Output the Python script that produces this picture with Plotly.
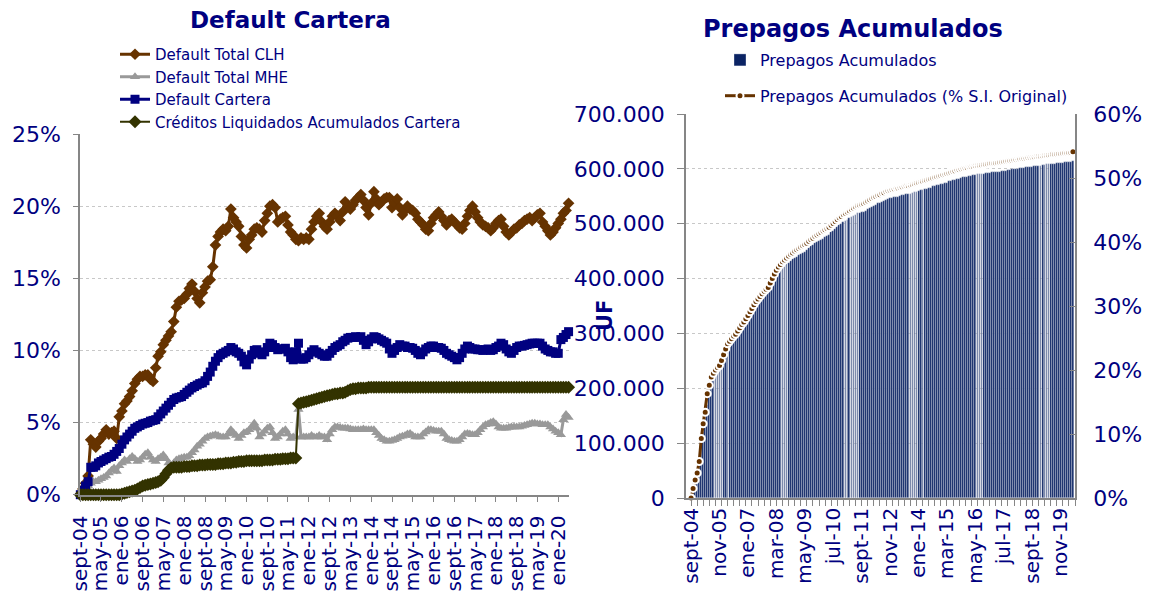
import pandas as pd
import plotly.graph_objects as go

# ---------------- data (monthly, sept-2004 .. may-2020) ----------------
START = "2004-09-01"

default_total_clh = [
    0.0, 0.4, 0.8, 1.3,
    3.8, 3.5, 3.3, 3.7, 3.9, 4.2, 4.5, 4.2, 4.3, 4.4, 3.9, 5.4,
    5.8, 6.3, 6.5, 6.8, 7.2, 7.7, 8.0, 8.2, 8.2, 8.3, 8.3, 8.0,
    7.85, 8.8, 9.6, 9.9, 10.4, 10.7, 11.0, 11.3, 12.0, 13.0, 13.4, 13.5,
    13.6, 13.9, 14.3, 14.6, 14.1, 13.6, 13.3, 14.0, 14.4, 14.8, 14.9, 15.8,
    17.3, 17.9, 18.2, 18.4, 18.3, 18.6, 19.8, 19.2, 18.9, 18.6, 17.9, 17.3,
    17.1, 17.7, 18.0, 18.4, 18.5, 18.4, 18.2, 19.0, 19.5, 20.0, 20.1, 19.9,
    18.9, 19.1, 19.2, 19.3, 18.7, 18.2, 18.0, 17.7, 17.6, 17.8, 17.7, 17.8,
    17.7, 18.4, 18.9, 19.3, 19.5, 18.9, 18.6, 18.4, 18.9, 19.3, 19.5, 19.3,
    19.0, 19.6, 20.3, 20.0, 19.8, 20.1, 20.4, 20.6, 20.8, 20.4, 19.9, 19.4,
    20.2, 21.0, 20.5, 20.1, 20.3, 20.5, 20.6, 20.6, 19.9, 20.2, 20.5, 19.9,
    19.4, 19.7, 20.0, 19.8, 19.7, 19.5, 19.1, 18.9, 18.7, 18.4, 18.3, 18.8,
    19.2, 19.4, 19.6, 19.3, 19.0, 18.7, 19.0, 19.1, 18.9, 18.7, 18.5, 18.4,
    18.8, 19.3, 19.7, 20.0, 19.6, 19.2, 18.9, 18.7, 18.6, 18.5, 18.3, 18.5,
    18.8, 19.0, 19.1, 18.6, 18.2, 18.0, 18.2, 18.4, 18.5, 18.7, 18.8, 19.0,
    19.1, 19.2, 19.0, 19.2, 19.4, 19.5, 18.9, 18.6, 18.3, 18.0, 18.2, 18.5,
    18.8, 19.1, 19.5, 19.7, 20.2,
]

default_total_mhe = [
    0.0, 0.2, 0.4, 0.6,
    0.8, 0.9, 0.9, 1.0, 1.1, 1.2, 1.3, 1.5, 1.7, 1.85, 1.6, 2.0,
    2.2, 2.4, 2.3, 2.5, 2.65, 2.5, 2.3, 2.4, 2.6, 2.8, 2.9, 2.6,
    2.4, 2.3, 2.5, 2.6, 2.75, 2.5, 2.2, 1.95, 2.2, 2.4, 2.5, 2.55,
    2.6, 2.6, 2.7, 2.9, 3.1, 3.35, 3.5, 3.7, 3.9, 4.0, 4.05, 4.1,
    4.15, 4.1, 4.0, 4.0, 4.0, 4.2, 4.5, 4.3, 4.1, 3.9, 4.1, 4.3,
    4.35, 4.5, 4.7, 4.95, 4.6, 4.0, 4.2, 4.4, 4.6, 4.7, 4.3, 3.9,
    4.0, 4.2, 4.4, 4.5, 4.2, 3.9, 4.0, 4.0, 5.9, 4.0, 4.0, 4.0,
    4.0, 4.1, 4.0, 4.0, 4.1, 4.0, 4.0, 3.8, 4.2, 4.5, 4.7, 4.7,
    4.65, 4.6, 4.6, 4.6, 4.55, 4.5, 4.5, 4.5, 4.5, 4.55, 4.5, 4.5,
    4.5, 4.5, 4.3, 4.1, 3.9, 3.8, 3.7, 3.7, 3.75, 3.8, 3.9, 4.0,
    4.05, 4.1, 4.2, 4.25, 4.1, 4.0, 4.0, 4.0, 4.2, 4.35, 4.5, 4.5,
    4.45, 4.4, 4.4, 4.4, 4.2, 3.9, 3.8, 3.75, 3.7, 3.7, 3.8, 4.0,
    4.2, 4.25, 4.2, 4.15, 4.15, 4.3, 4.5, 4.7, 4.85, 4.9, 5.0, 5.05,
    4.9, 4.7, 4.6, 4.6, 4.6, 4.65, 4.7, 4.7, 4.7, 4.7, 4.75, 4.8,
    4.85, 4.9, 4.95, 4.95, 4.9, 4.9, 4.85, 4.85, 4.85, 4.7, 4.55, 4.4,
    4.3, 4.15, 5.2, 5.55, 5.35,
]

default_cartera = [
    0.0, 0.3, 0.6, 0.9,
    1.9, 1.9, 2.0, 2.2, 2.3, 2.4, 2.5, 2.6, 2.65, 2.8, 3.0, 3.2,
    3.5, 3.8, 4.0, 4.2, 4.4, 4.6, 4.7, 4.8, 4.9, 4.95, 5.0, 5.1,
    5.15, 5.2, 5.4, 5.6, 5.8, 6.0, 6.2, 6.4, 6.6, 6.7, 6.75, 6.8,
    6.95, 7.1, 7.25, 7.4, 7.5, 7.6, 7.7, 7.75, 7.9, 8.2, 8.5, 8.9,
    9.25, 9.5, 9.7, 9.8, 9.9, 10.0, 10.2, 10.1, 9.9, 9.8, 9.6, 9.2,
    9.0, 9.4, 9.7, 10.0, 10.05, 9.8, 9.7, 9.9, 10.2, 10.5, 10.4, 10.2,
    10.05, 10.1, 10.1, 10.15, 9.9, 9.5, 9.35, 9.9, 10.5, 9.4, 9.4, 9.5,
    9.7, 9.9, 10.05, 9.9, 9.8, 9.7, 9.6, 9.6, 9.8, 10.0, 10.2, 10.3,
    10.4, 10.6, 10.7, 10.85, 10.9, 10.9, 10.95, 10.9, 10.95, 10.7, 10.4, 10.6,
    10.8, 10.95, 10.9, 10.8, 10.7, 10.6, 10.5, 10.1, 9.8, 10.0, 10.2, 10.4,
    10.3, 10.3, 10.2, 10.2, 10.15, 10.0, 9.8, 9.7, 9.9, 10.1, 10.2, 10.3,
    10.3, 10.2, 10.2, 10.15, 10.0, 9.8, 9.7, 9.6, 9.5, 9.35, 9.5, 9.8,
    10.1, 10.3, 10.2, 10.1, 10.1, 10.05, 10.05, 10.0, 10.05, 10.1, 10.0, 10.05,
    10.2, 10.3, 10.5, 10.4, 10.1, 9.9, 9.8, 10.0, 10.2, 10.3, 10.3, 10.35,
    10.4, 10.45, 10.5, 10.5, 10.5, 10.5, 10.3, 10.1, 10.0, 9.9, 9.9, 9.8,
    9.8, 10.75, 10.9, 11.1, 11.3,
]

creditos_liquidados = [
    0.0, 0.0, 0.0, 0.0,
    0.0, 0.0, 0.0, 0.0, 0.0, 0.0, 0.0, 0.0, 0.0, 0.0, 0.0, 0.0,
    0.05, 0.1, 0.15, 0.2, 0.25, 0.3, 0.4, 0.5, 0.6, 0.65, 0.7, 0.75,
    0.8, 0.85, 0.9, 1.0, 1.2, 1.45, 1.7, 1.85, 1.9, 1.9, 1.9, 1.9,
    1.95, 1.95, 1.95, 2.0, 2.0, 2.0, 2.05, 2.05, 2.05, 2.1, 2.1, 2.1,
    2.1, 2.15, 2.15, 2.15, 2.2, 2.2, 2.2, 2.25, 2.25, 2.3, 2.3, 2.3,
    2.35, 2.35, 2.35, 2.35, 2.35, 2.35, 2.35, 2.4, 2.4, 2.4, 2.4, 2.45,
    2.45, 2.45, 2.5, 2.5, 2.5, 2.55, 2.55, 2.55, 6.3, 6.35, 6.4, 6.45,
    6.5, 6.55, 6.6, 6.65, 6.7, 6.75, 6.8, 6.85, 6.9, 6.95, 7.0, 7.0,
    7.05, 7.05, 7.1, 7.2, 7.3, 7.35, 7.35, 7.4, 7.4, 7.4, 7.4, 7.45,
    7.45, 7.45, 7.45, 7.45, 7.45, 7.45, 7.45, 7.45, 7.45, 7.45, 7.45, 7.45,
    7.45, 7.45, 7.45, 7.45, 7.45, 7.45, 7.45, 7.45, 7.45, 7.45, 7.45, 7.45,
    7.45, 7.45, 7.45, 7.45, 7.45, 7.45, 7.45, 7.45, 7.45, 7.45, 7.45, 7.45,
    7.45, 7.45, 7.45, 7.45, 7.45, 7.45, 7.45, 7.45, 7.45, 7.45, 7.45, 7.45,
    7.45, 7.45, 7.45, 7.45, 7.45, 7.45, 7.45, 7.45, 7.45, 7.45, 7.45, 7.45,
    7.45, 7.45, 7.45, 7.45, 7.45, 7.45, 7.45, 7.45, 7.45, 7.45, 7.45, 7.45,
    7.45, 7.45, 7.45, 7.45, 7.45,
]

prepagos_uf = [
    0, 12000, 28000, 40000,
    60000, 95000, 120000, 145000, 170000, 192000, 205000, 218000, 226000, 233000, 240000, 244000,
    254000, 264000, 273000, 278000, 283000, 287000, 291000, 296000, 302000, 308000, 312000, 318000,
    323000, 330000, 336000, 343000, 348000, 353000, 358000, 362000, 367000, 370000, 373000, 381000,
    389000, 397000, 404000, 410000, 414000, 419000, 422000, 426000, 429000, 432000, 435000, 438000,
    440000, 443000, 445000, 447000, 449000, 452000, 455000, 459000, 461000, 464000, 466000, 469000,
    471000, 473000, 476000, 478000, 480000, 484000, 487000, 490000, 494000, 497000, 499000, 503000,
    505000, 507000, 510000, 512000, 514000, 516000, 519000, 520000, 521000, 522000, 524000, 527000,
    529000, 531000, 533000, 535000, 537000, 538000, 540000, 541000, 544000, 545000, 546000, 547000,
    548000, 549000, 549000, 550000, 552000, 553000, 554000, 554000, 555000, 556000, 557000, 558000,
    560000, 561000, 562000, 563000, 564000, 565000, 566000, 568000, 569000, 570000, 571000, 572000,
    573000, 574000, 575000, 577000, 578000, 579000, 580000, 582000, 582000, 583000, 585000, 585000,
    586000, 587000, 587000, 588000, 589000, 590000, 590000, 591000, 591000, 592000, 592000, 593000,
    594000, 594000, 594000, 595000, 595000, 596000, 596000, 597000, 598000, 598000, 599000, 599000,
    600000, 600000, 601000, 602000, 602000, 603000, 603000, 604000, 604000, 605000, 606000, 606000,
    606000, 607000, 607000, 608000, 608000, 609000, 609000, 609000, 610000, 611000, 611000, 611000,
    612000, 612000, 613000, 613000, 614000,
]

prepagos_pct = [
    0.0, 1.5, 2.8, 3.9,
    5.7, 9.3, 11.6, 13.4, 16.3, 17.6, 18.9, 19.5, 20.0, 20.4, 20.7, 21.5,
    22.4, 23.3, 24.1, 24.5, 24.9, 25.3, 25.6, 26.1, 26.6, 27.1, 27.5, 28.0,
    28.5, 29.1, 29.6, 30.2, 30.7, 31.1, 31.5, 31.9, 32.3, 32.6, 32.9, 33.6,
    34.3, 35.0, 35.6, 36.1, 36.5, 36.9, 37.2, 37.5, 37.8, 38.1, 38.3, 38.6,
    38.8, 39.0, 39.2, 39.4, 39.6, 39.8, 40.1, 40.4, 40.6, 40.9, 41.1, 41.3,
    41.5, 41.7, 41.9, 42.1, 42.3, 42.6, 42.9, 43.2, 43.5, 43.8, 44.0, 44.3,
    44.5, 44.7, 44.9, 45.1, 45.3, 45.5, 45.7, 45.8, 45.9, 46.0, 46.2, 46.4,
    46.6, 46.8, 47.0, 47.1, 47.3, 47.4, 47.6, 47.7, 47.9, 48.0, 48.1, 48.2,
    48.3, 48.4, 48.4, 48.5, 48.6, 48.7, 48.8, 48.8, 48.9, 49.0, 49.1, 49.2,
    49.3, 49.4, 49.5, 49.6, 49.7, 49.8, 49.9, 50.0, 50.1, 50.2, 50.3, 50.4,
    50.5, 50.6, 50.7, 50.8, 50.9, 51.0, 51.1, 51.25, 51.3, 51.4, 51.5, 51.55,
    51.6, 51.7, 51.75, 51.8, 51.9, 51.95, 52.0, 52.05, 52.1, 52.15, 52.2, 52.25,
    52.3, 52.3, 52.35, 52.4, 52.45, 52.5, 52.55, 52.6, 52.65, 52.7, 52.75, 52.8,
    52.85, 52.9, 52.95, 53.0, 53.05, 53.1, 53.15, 53.2, 53.25, 53.3, 53.35, 53.4,
    53.4, 53.45, 53.5, 53.55, 53.6, 53.65, 53.7, 53.7, 53.75, 53.8, 53.8, 53.85,
    53.9, 53.9, 53.95, 54.0, 54.1,
]

left_tick_labels = [
    "sept-04", "may-05", "ene-06", "sept-06", "may-07", "ene-08", "sept-08", "may-09",
    "ene-10", "sept-10", "may-11", "ene-12", "sept-12", "may-13", "ene-14", "sept-14",
    "may-15", "ene-16", "sept-16", "may-17", "ene-18", "sept-18", "may-19", "ene-20",
]
right_tick_labels = [
    "sept-04", "nov-05", "ene-07", "mar-08", "may-09", "jul-10", "sept-11",
    "nov-12", "ene-14", "mar-15", "may-16", "jul-17", "sept-18", "nov-19",
]

months = pd.date_range(START, periods=len(default_total_clh), freq="MS")
left_tick_vals = list(months[::8][:len(left_tick_labels)])
right_tick_vals = list(months[::14][:len(right_tick_labels)])

# ---------------- styling ----------------
W, H = 1150, 593
NAVY = "#000080"
BROWN = "#663300"
GRAY = "#999999"
BLUE = "#000080"
OLIVE = "#333300"
AXIS = "#868686"
GRID = "#C8C8C8"
FONT = "DejaVu Sans"


def px_x(p):
    return p / W


def px_y(p):
    return 1 - p / H


fig = go.Figure()

fig.add_trace(go.Scatter(
    x=months, y=default_total_clh, name="Default Total CLH", mode="lines+markers",
    line=dict(color=BROWN, width=3), marker=dict(symbol="diamond", size=9, color=BROWN),
    xaxis="x", yaxis="y", legend="legend", cliponaxis=False))
fig.add_trace(go.Scatter(
    x=months, y=default_total_mhe, name="Default Total MHE", mode="lines+markers",
    line=dict(color=GRAY, width=3), marker=dict(symbol="triangle-up", size=9, color=GRAY),
    xaxis="x", yaxis="y", legend="legend", cliponaxis=False))
fig.add_trace(go.Scatter(
    x=months, y=default_cartera, name="Default Cartera", mode="lines+markers",
    line=dict(color=BLUE, width=3), marker=dict(symbol="square", size=9, color=BLUE),
    xaxis="x", yaxis="y", legend="legend", cliponaxis=False))
fig.add_trace(go.Scatter(
    x=months, y=creditos_liquidados, name="Créditos Liquidados Acumulados Cartera",
    mode="lines+markers",
    line=dict(color=OLIVE, width=2), marker=dict(symbol="diamond", size=10, color=OLIVE),
    xaxis="x", yaxis="y", legend="legend", cliponaxis=False))

fig.add_trace(go.Bar(
    x=months, y=prepagos_uf, name="Prepagos Acumulados",
    marker=dict(color="#0B2464", line=dict(width=0.45, color="rgba(255,255,255,0.75)")),
    xaxis="x2", yaxis="y2", legend="legend2", legendgroup="a"))
fig.add_trace(go.Scatter(
    x=months, y=prepagos_pct, name="Prepagos Acumulados (% S.I. Original)",
    mode="lines+markers",
    line=dict(color=BROWN, width=3),
    marker=dict(symbol="circle", size=7, color=BROWN, line=dict(color="white", width=2)),
    xaxis="x2", yaxis="y3", legend="legend2", legendgroup="b", cliponaxis=False))

tickfont = dict(family=FONT, size=22, color=NAVY)
xtickfont = dict(family=FONT, size=20, color=NAVY)

fig.update_layout(
    width=W, height=H,
    autosize=False,
    margin=dict(l=0, r=0, t=0, b=0, autoexpand=False),
    paper_bgcolor="white", plot_bgcolor="rgba(0,0,0,0)",
    separators=",.",
    font=dict(family=FONT, color=NAVY),
    bargap=0.0,
    showlegend=True,
    xaxis=dict(
        domain=[px_x(80), px_x(569)], anchor="y", type="date", automargin=False,
        range=["2004-08-28", "2020-05-06"],
        tickmode="array", tickvals=left_tick_vals, ticktext=left_tick_labels,
        tickangle=-90, tickfont=xtickfont,
        ticks="outside", ticklen=6, tickcolor=AXIS, ticklabelstandoff=5,
        showline=True, linecolor=AXIS, linewidth=1.5, showgrid=False, zeroline=False,
    ),
    yaxis=dict(
        domain=[px_y(494.7), px_y(134)], anchor="x", automargin=False,
        range=[0, 25], dtick=5, ticksuffix="%", tickfont=tickfont,
        ticks="outside", ticklen=5, tickcolor=AXIS, ticklabelstandoff=8,
        showline=True, linecolor=AXIS, linewidth=1.5,
        showgrid=True, gridcolor=GRID, griddash="dot", zeroline=False,
    ),
    xaxis2=dict(
        domain=[px_x(686), px_x(1075)], anchor="y2", type="date", automargin=False,
        range=["2004-06-17", "2020-06-01"],
        tickmode="array", tickvals=right_tick_vals, ticktext=right_tick_labels,
        tickangle=-90, tickfont=xtickfont, ticks="",
        minor=dict(ticks="outside", dtick="M3", tick0=START, ticklen=6,
                   tickcolor=AXIS, showgrid=False),
        showline=True, linecolor=AXIS, linewidth=1.5, showgrid=False, zeroline=False,
    ),
    yaxis2=dict(
        domain=[px_y(498), px_y(114)], anchor="x2", automargin=False,
        range=[0, 700000], dtick=100000, tickformat=",d", tickfont=tickfont,
        ticks="outside", ticklen=7, tickcolor=AXIS, ticklabelstandoff=8,
        showline=True, linecolor=AXIS, linewidth=1.5,
        showgrid=True, gridcolor=GRID, griddash="dot", zeroline=False,
    ),
    yaxis3=dict(
        overlaying="y2", side="right", anchor="x2", automargin=False,
        range=[0, 60], dtick=10, ticksuffix="%", tickfont=tickfont,
        ticks="inside", ticklen=6, tickcolor=AXIS, ticklabelstandoff=12,
        showline=True, linecolor=AXIS, linewidth=1.5,
        showgrid=False, zeroline=False,
    ),
    legend=dict(
        x=px_x(115), y=px_y(38), xanchor="left", yanchor="top",
        font=dict(family=FONT, size=15, color=NAVY),
        bgcolor="rgba(0,0,0,0)", borderwidth=0, tracegroupgap=0,
    ),
    legend2=dict(
        x=px_x(720), y=px_y(43), xanchor="left", yanchor="top",
        font=dict(family=FONT, size=16, color=NAVY),
        bgcolor="rgba(0,0,0,0)", borderwidth=0, tracegroupgap=12,
        traceorder="grouped",
    ),
    annotations=[
        dict(text="<b>Default Cartera</b>", x=px_x(290), y=px_y(20), xref="paper", yref="paper",
             xanchor="center", yanchor="middle", showarrow=False,
             font=dict(family=FONT, size=23, color=NAVY)),
        dict(text="<b>Prepagos Acumulados</b>", x=px_x(853), y=px_y(29), xref="paper", yref="paper",
             xanchor="center", yanchor="middle", showarrow=False,
             font=dict(family=FONT, size=24, color=NAVY)),
        dict(text="<b>UF</b>", x=px_x(605), y=px_y(316), xref="paper", yref="paper",
             xanchor="center", yanchor="middle", showarrow=False, textangle=-90,
             font=dict(family=FONT, size=21, color=NAVY)),
    ],
)

fig.write_html(
    "out.html",
    config={"displayModeBar": False},
    post_script="document.body.style.margin='0px';document.body.style.overflow='hidden';",
)
